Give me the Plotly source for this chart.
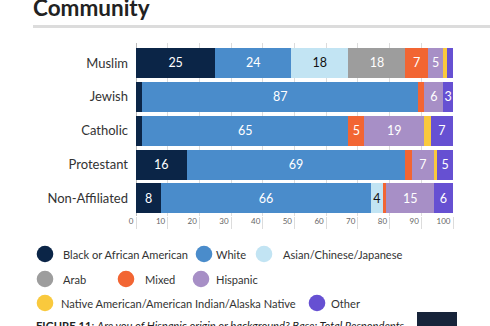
import plotly.graph_objects as go

# ---------------- data ----------------
categories = ["Muslim", "Jewish", "Catholic", "Protestant", "Non-Affiliated"]
series_names = [
    "Black or African American",
    "White",
    "Asian/Chinese/Japanese",
    "Arab",
    "Mixed",
    "Hispanic",
    "Native American/American Indian/Alaska Native",
    "Other",
]
black = [25, 2, 2, 16, 8]
white = [24, 87, 65, 69, 66]
asian = [18, 0, 0, 0, 4]
arab = [18, 0, 0, 0, 0]
mixed = [7, 2, 5, 2, 1]
hispanic = [5, 6, 19, 7, 15]
native = [1, 0, 2, 1, 0]
other = [2, 3, 7, 5, 6]
x_ticks = [0, 10, 20, 30, 40, 50, 60, 70, 80, 90, 100]

series_values = [black, white, asian, arab, mixed, hispanic, native, other]

# ---------------- styles ----------------
colors = ["#0b2547", "#4a8ccb", "#c2e4f3", "#9d9d9d", "#f26533", "#a78fc6", "#f9c93d", "#6650d2"]
text_colors = ["#ffffff", "#ffffff", "#111111", "#ffffff", "#ffffff", "#ffffff", "#ffffff", "#ffffff"]
FONT = "Lato"

W, H = 490, 326
L, R, T, B = 136, 37, 43, 110
PW = W - L - R
PH = H - T - B


def pxx(x):
    return (x - L) / PW


def pxy(y):
    return (H - B - y) / PH


fig = go.Figure()
for name, vals, col, tcol in zip(series_names, series_values, colors, text_colors):
    fig.add_trace(go.Bar(
        y=categories, x=vals, name=name, orientation="h",
        marker=dict(color=col, line=dict(width=0)),
        text=[str(v) if v >= 3 else "" for v in vals],
        textposition="inside", insidetextanchor="middle", textangle=0,
        constraintext="none",
        textfont=dict(color=tcol, size=12.5, family=FONT),
        showlegend=False, hoverinfo="skip",
    ))

shapes = []
annotations = []

# title and rule
annotations.append(dict(text="<b>Community</b>", x=pxx(31), y=pxy(8), xref="paper", yref="paper",
                        xanchor="left", yanchor="middle", showarrow=False,
                        font=dict(family=FONT, size=22.5, color="#222222")))
shapes.append(dict(type="line", xref="paper", yref="paper", x0=pxx(33), x1=pxx(492),
                   y0=pxy(26.5), y1=pxy(26.5), line=dict(color="#dcdcdc", width=3)))

# legend (manual, circles)
legend_layout = [  # (marker_x, text_x, y)
    (45, 61, 254), (204, 214, 254), (264, 281, 254),
    (45, 61, 279), (126, 143, 279), (201, 214, 279),
    (45, 59, 303), (317, 329, 303),
]
for name, col, (mx, tx, yy) in zip(series_names, colors, legend_layout):
    shapes.append(dict(type="circle", xref="paper", yref="paper",
                       xsizemode="pixel", ysizemode="pixel",
                       xanchor=pxx(mx), yanchor=pxy(yy),
                       x0=-8.3, x1=8.3, y0=-8.3, y1=8.3,
                       fillcolor=col, line=dict(width=0)))
    annotations.append(dict(text=name, x=pxx(tx), y=pxy(yy), xref="paper", yref="paper",
                            xanchor="left", yanchor="middle", showarrow=False,
                            font=dict(family=FONT, size=11.1, color="#333333")))

# footer caption and logo block
annotations.append(dict(text="<b>FIGURE 11</b>: <i>Are you of Hispanic origin or background? Base: Total Respondents</i>",
                        x=pxx(34), y=pxy(325.5), xref="paper", yref="paper",
                        xanchor="left", yanchor="middle", showarrow=False,
                        font=dict(family=FONT, size=11.2, color="#222222")))
shapes.append(dict(type="rect", xref="paper", yref="paper", x0=pxx(417), x1=pxx(457),
                   y0=pxy(312), y1=pxy(332), fillcolor="#17243a", line=dict(width=0)))

fig.update_layout(
    width=W, height=H,
    margin=dict(l=L, r=R, t=T, b=B, pad=0),
    paper_bgcolor="white", plot_bgcolor="white",
    barmode="stack", bargap=0.115,
    font=dict(family=FONT, color="#333333"),
    shapes=shapes, annotations=annotations,
    showlegend=False,
    xaxis=dict(range=[0, 100], tickvals=x_ticks, ticktext=[str(v) for v in x_ticks],
               showgrid=True, gridcolor="#dcdcdc", gridwidth=1,
               zeroline=True, zerolinecolor="#bbbbbb", zerolinewidth=1,
               ticks="outside", ticklen=12, tickcolor="#dcdcdc", tickwidth=1,
               ticklabelposition="outside left", ticklabelstandoff=-3, ticklabelshift=-2,
               tickfont=dict(family=FONT, size=8, color="#666666"),
               showline=False, fixedrange=True),
    yaxis=dict(type="category", categoryorder="array", categoryarray=categories,
               range=[4.52, -0.59], showgrid=False, zeroline=False, showline=False,
               ticks="", ticklabelstandoff=7,
               tickfont=dict(family=FONT, size=13, color="#333333"), fixedrange=True),
)

fig.write_html("out.html")
